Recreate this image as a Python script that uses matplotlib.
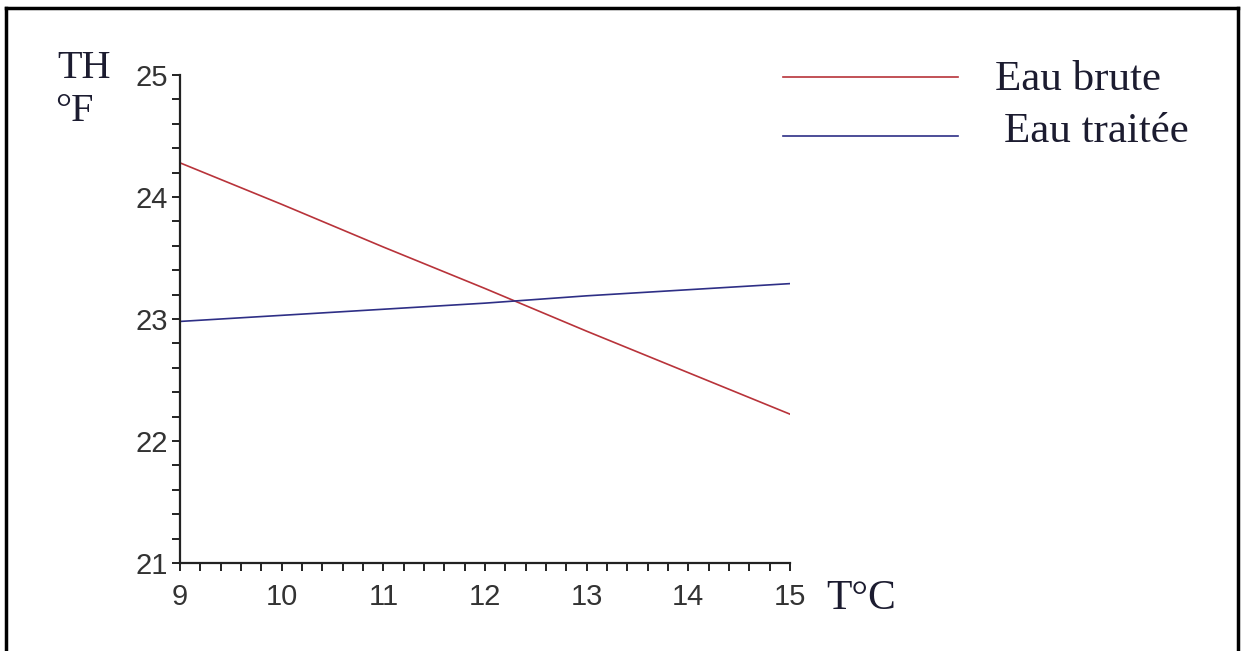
import matplotlib.pyplot as plt
from matplotlib.lines import Line2D

temps = [9, 10, 11, 12, 13, 14, 15]
th_brute = [24.28, 23.94, 23.59, 23.25, 22.90, 22.56, 22.22]
th_traitee = [22.98, 23.03, 23.08, 23.13, 23.19, 23.24, 23.29]
labels = ["Eau brute", "Eau traitée"]
colors = ["#b8333a", "#2e2f86"]

W, H = 1241, 651


def fx(px):
    return px / W


def fy(py):
    return 1 - py / H


fig = plt.figure(figsize=(W / 100, H / 100), dpi=100)
ax = fig.add_axes([fx(180), fy(563), fx(790) - fx(180), fy(75) - fy(563)])

ax.plot(temps, th_brute, color=colors[0], lw=1.2)
ax.plot(temps, th_traitee, color=colors[1], lw=1.2)

ax.set_xlim(9, 15)
ax.set_ylim(21, 25)
ax.set_xticks(range(9, 16))
ax.set_yticks(range(21, 26))
ax.set_xticks([9 + 0.2 * i for i in range(31)], minor=True)
ax.set_yticks([21 + 0.2 * i for i in range(21)], minor=True)
for s in ['top', 'right']:
    ax.spines[s].set_visible(False)
for s in ['left', 'bottom']:
    ax.spines[s].set_color('#222222')
    ax.spines[s].set_linewidth(1.6)
ax.tick_params(which='both', direction='out', length=5.5, width=1.4, color='#222222')
ax.tick_params(axis='both', labelsize=21, labelcolor='#333333')
ax.tick_params(axis='x', pad=9)
ax.tick_params(axis='y', pad=3)
for lab in ax.get_xticklabels() + ax.get_yticklabels():
    lab.set_family('Liberation Sans')

serif = dict(family='Liberation Serif', color='#1c1c30', va='baseline', ha='left')
fig.text(fx(57), fy(78), "TH", fontsize=29, **serif)
fig.text(fx(55), fy(121), "°F", fontsize=29, **serif)
fig.text(fx(826), fy(609), "T°C", fontsize=30, **serif)

# legend
for i, (lab, c) in enumerate(zip(labels, colors)):
    y = [77, 136][i]
    fig.add_artist(Line2D([fx(783), fx(958)], [fy(y), fy(y)], color=c, lw=1.2,
                          transform=fig.transFigure))
    fig.text(fx([995, 1004][i]), fy([90, 142][i]), lab, fontsize=31, **serif)

# image frame
for xs, ys in [((6, 6), (8, 651)), ((6, 1238), (8, 8)), ((1238, 1238), (8, 651))]:
    fig.add_artist(Line2D([fx(xs[0]), fx(xs[1])], [fy(ys[0]), fy(ys[1])],
                          color='black', lw=2.5, transform=fig.transFigure))

fig.savefig("out.png", dpi=100)
